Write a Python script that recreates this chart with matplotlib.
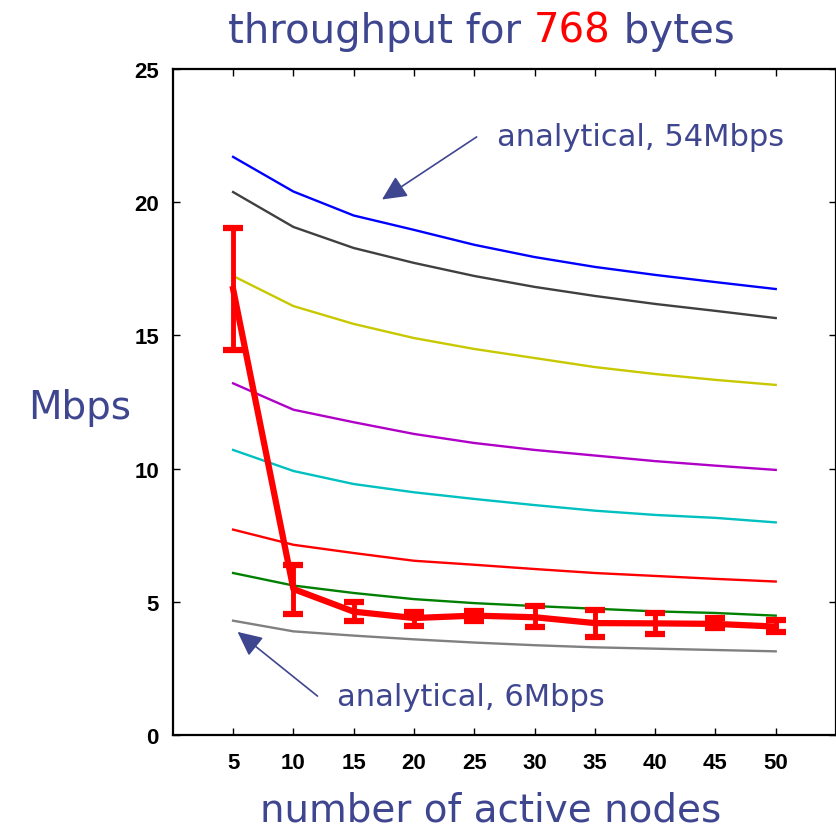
import numpy as np
import matplotlib.pyplot as plt

# --- data ---
nodes = [5, 10, 15, 20, 25, 30, 35, 40, 45, 50]

# analytical curves, top (54Mbps) to bottom (6Mbps)
ana_54 = [21.7, 20.4, 19.5, 18.96, 18.4, 17.94, 17.57, 17.27, 17.0, 16.74]
ana_48 = [20.38, 19.07, 18.28, 17.72, 17.23, 16.82, 16.48, 16.18, 15.92, 15.65]
ana_36 = [17.23, 16.1, 15.43, 14.9, 14.49, 14.15, 13.81, 13.55, 13.33, 13.14]
ana_24 = [13.2, 12.21, 11.74, 11.3, 10.96, 10.7, 10.49, 10.28, 10.11, 9.95]
ana_18 = [10.7, 9.91, 9.42, 9.11, 8.86, 8.63, 8.42, 8.26, 8.15, 7.98]
ana_12 = [7.71, 7.14, 6.83, 6.54, 6.39, 6.23, 6.08, 5.97, 5.86, 5.76]
ana_9 = [6.08, 5.61, 5.33, 5.1, 4.95, 4.84, 4.74, 4.64, 4.58, 4.48]
ana_6 = [4.29, 3.89, 3.73, 3.59, 3.47, 3.37, 3.29, 3.24, 3.19, 3.14]

# measured throughput with error bars
meas = [16.74, 5.48, 4.63, 4.39, 4.48, 4.42, 4.2, 4.19, 4.17, 4.07]
meas_hi = [19.03, 6.39, 4.98, 4.6, 4.64, 4.85, 4.69, 4.57, 4.38, 4.33]
meas_lo = [14.45, 4.54, 4.29, 4.1, 4.29, 4.04, 3.67, 3.79, 4.01, 3.88]

curves = [
    (ana_54, '#0000ff'),
    (ana_48, '#404040'),
    (ana_36, '#c8c800'),
    (ana_24, '#b000c8'),
    (ana_18, '#00c0c0'),
    (ana_12, '#ff0000'),
    (ana_9, '#008000'),
    (ana_6, '#808080'),
]

navy = '#3f4690'

fig = plt.figure(figsize=(8.36, 8.29), dpi=100)
ax = fig.add_axes([0.2067, 0.1122, 0.7933, 0.8034])

for vals, col in curves:
    ax.plot(nodes, vals, color=col, linewidth=1.7)

meas = np.array(meas)
yerr = [meas - np.array(meas_lo), np.array(meas_hi) - meas]
ax.errorbar(nodes, meas, yerr=yerr, color='#ff0000', linewidth=4.5,
            elinewidth=3.5, capsize=7, capthick=4.5, zorder=5)

ax.set_xlim(0, 55)
ax.set_ylim(0, 25)
ax.set_xticks(nodes)
ax.set_yticks([0, 5, 10, 15, 20, 25])
ax.tick_params(direction='in', top=True, right=True, length=5, width=1,
               labeltop=False, labelright=False)
for lab in ax.get_xticklabels() + ax.get_yticklabels():
    lab.set_fontweight('bold')
    lab.set_fontsize(16)
    lab.set_family('Liberation Sans')
ax.tick_params(axis='x', pad=12)
ax.tick_params(axis='y', pad=10)
for s in ax.spines.values():
    s.set_linewidth(1.6)

# --- annotations: arrows and text placed separately ---
arrow = dict(arrowstyle='-|>,head_length=0.5,head_width=0.24', color=navy,
             lw=1.2, mutation_scale=30, shrinkA=0, shrinkB=0)
ax.annotate('', xy=(17.35, 20.1), xytext=(25.2, 22.45), arrowprops=arrow)
ax.annotate('', xy=(5.37, 3.87), xytext=(12.0, 1.46), arrowprops=arrow)
ax.text(26.9, 22.45, 'analytical, 54Mbps', fontsize=22, color=navy,
        va='center', ha='left')
ax.text(13.6, 1.46, 'analytical, 6Mbps', fontsize=22, color=navy,
        va='center', ha='left')

# --- titles and labels ---
t1 = fig.text(0.2727, 0.962, 'throughput for ', fontsize=29, color=navy,
              ha='left', va='center')
fig.canvas.draw()
x1 = t1.get_window_extent().x1 / fig.bbox.width
t2 = fig.text(x1, 0.962, '768', fontsize=29, color='#ff0000',
              ha='left', va='center')
fig.canvas.draw()
x2 = t2.get_window_extent().x1 / fig.bbox.width
fig.text(x2, 0.962, ' bytes', fontsize=29, color=navy, ha='left', va='center')

fig.text(0.034, 0.508, 'Mbps', fontsize=28, color=navy, ha='left', va='center')
fig.text(0.587, 0.022, 'number of active nodes', fontsize=28, color=navy,
         ha='center', va='center')

fig.savefig('out.png', dpi=100)
